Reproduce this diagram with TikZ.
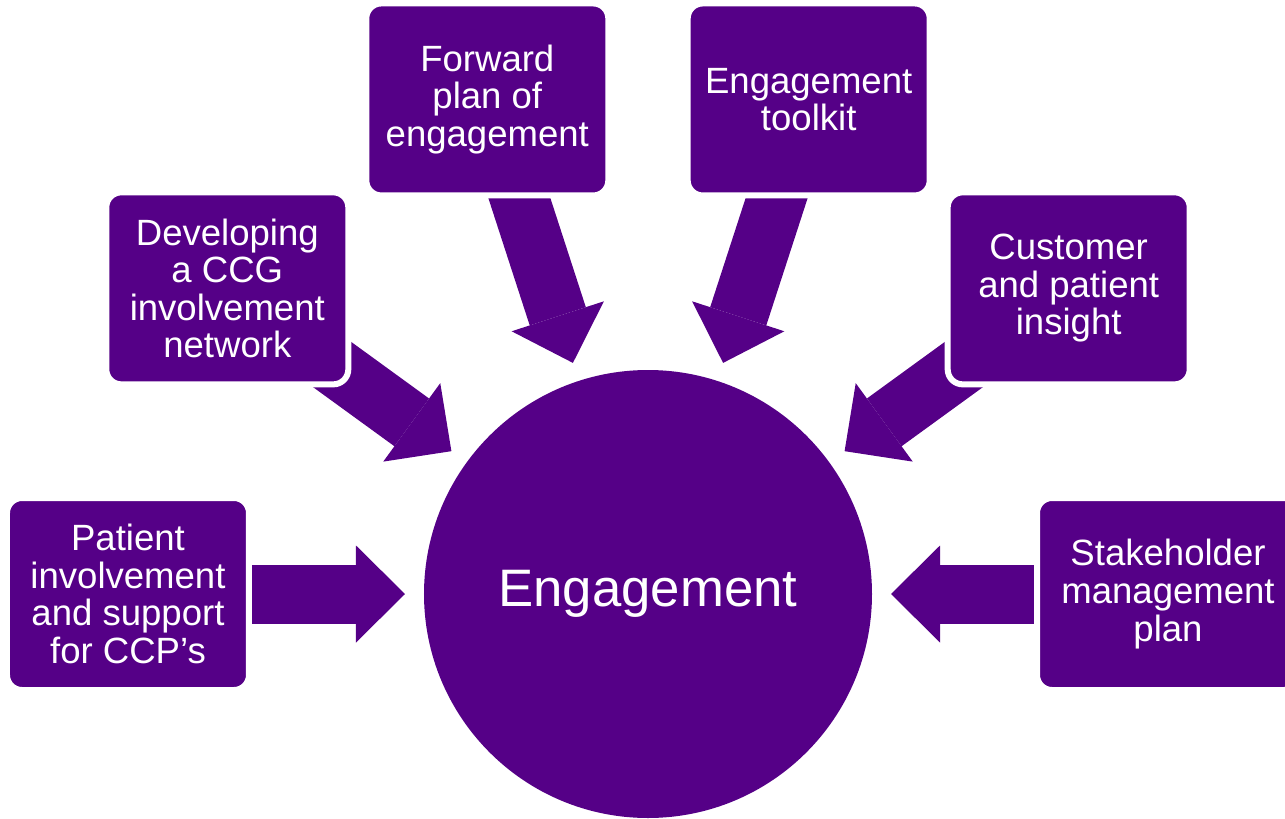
\documentclass[tikz,border=0pt]{standalone}
\usepackage{fontspec}
\setmainfont{Liberation Sans}
\usepackage{xcolor}
\usepackage{tikz}
\usetikzlibrary{calc, backgrounds, arrows.meta}
\definecolor{engPurple}{RGB}{85,0,135}
\tikzset{
    infobox/.style={
        rectangle,
        draw=white,
        line width=0.12cm,
        fill=engPurple,
        rounded corners=0.3cm,
        minimum width=4.84cm,
        minimum height=3.84cm,
        inner sep=0pt,
        align=center,
        text=white,
        font=\fontsize{20.8}{21.4}\selectfont
    },
    hub/.style={
        circle,
        fill=engPurple,
        minimum size=8.96cm,
        inner sep=0pt,
        text=white,
        font=\fontsize{30}{36}\selectfont
    },
    flow/.style={
        engPurple,
        line width=1.18cm,
        -{Triangle[width=1.94cm, length=0.98cm, line width=0pt]},
        shorten <=1.5cm,
        shorten >=4.86cm
    }
}

\begin{document}
\begin{tikzpicture}
    \clip (-12.96,-4.48) rectangle (12.74,11.88);

    % hub
    \node[hub] (eng) at (0,0) {Engagement};

    % boxes round the hub
    \node[infobox] (patient) at (180:10.4) {Patient\\involvement\\and support\\for CCP’s};
    \node[infobox] (network) at (144:10.4) {Developing\\a CCG\\involvement\\network};
    \node[infobox] (fwd) at (108:10.4) {Forward\\plan of\\engagement};
    \node[infobox] (toolkit) at (72:10.4) {Engagement\\toolkit};
    \node[infobox] (insight) at (36:10.4) {Customer\\and patient\\insight};
    \node[infobox, minimum width=5.24cm] (stake) at (0:10.4) {Stakeholder\\management\\plan};

    % arrows into the hub
    \begin{scope}[on background layer]
        \foreach \b in {patient, network, fwd, toolkit, insight, stake}
            \draw[flow] (\b.center) -- (eng.center);
    \end{scope}
\end{tikzpicture}
\end{document}
